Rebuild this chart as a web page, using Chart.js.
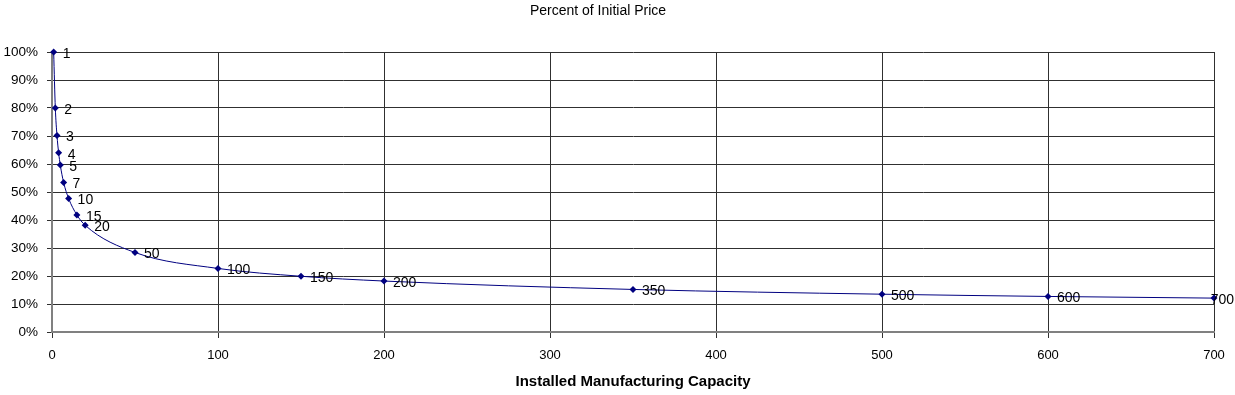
<!DOCTYPE html>
<html lang="en">
<head>
    <meta charset="UTF-8">
    <title>Percent of Initial Price</title>
    <script src="https://cdn.jsdelivr.net/npm/chart.js"></script>
    <style>
        html, body { margin: 0; padding: 0; background: #fff; }
        .chart-container { width: 1235px; height: 395px; position: relative; }
    </style>
</head>
<body>
    <div class="chart-container">
        <canvas id="priceChart"></canvas>
    </div>

    <script>
    // capacity values (x) and percent of initial price (y)
    const capacity = [1, 2, 3, 4, 5, 7, 10, 15, 20, 50, 100, 150, 200, 350, 500, 600, 700];
    const pricePct = [1.00, 0.80, 0.702, 0.64, 0.596, 0.534, 0.477, 0.418, 0.381, 0.284, 0.227, 0.199, 0.182, 0.152, 0.135, 0.127, 0.121];
    const xTicks = [0, 100, 200, 300, 400, 500, 600, 700];
    const yTicks = [0, 0.1, 0.2, 0.3, 0.4, 0.5, 0.6, 0.7, 0.8, 0.9, 1.0];
    const chartTitle = 'Percent of Initial Price';

    const FONT = 'Liberation Sans, Arial, sans-serif';

    // title sits a little left of centre, like the original
    const titleText = {
        id: 'titleText',
        afterDraw(chart) {
            const ctx = chart.ctx;
            ctx.save();
            ctx.font = '14px ' + FONT;
            ctx.fillStyle = '#000';
            ctx.textAlign = 'center';
            ctx.textBaseline = 'middle';
            ctx.fillText(chartTitle, 598, 11);
            ctx.restore();
        }
    };

    // write the capacity next to each point
    const pointLabels = {
        id: 'pointLabels',
        afterDatasetsDraw(chart) {
            const ctx = chart.ctx;
            const meta = chart.getDatasetMeta(0);
            ctx.save();
            ctx.font = '14px ' + FONT;
            ctx.fillStyle = '#000';
            ctx.textAlign = 'left';
            ctx.textBaseline = 'middle';
            meta.data.forEach(function(pt, i) {
                const txt = String(capacity[i]);
                const w = ctx.measureText(txt).width;
                const x = Math.min(pt.x + 9, chart.width - w - 1);
                ctx.fillText(txt, x, pt.y + 2);
            });
            ctx.restore();
        }
    };

    new Chart(document.getElementById('priceChart'), {
        type: 'line',
        data: {
            datasets: [{
                label: chartTitle,
                data: capacity.map((c, i) => ({ x: c, y: pricePct[i] })),
                borderColor: '#000080',
                backgroundColor: '#000080',
                borderWidth: 1,
                tension: 0.3,
                cubicInterpolationMode: 'monotone',
                pointStyle: 'rectRot',
                pointRadius: 3.5,
                pointBorderWidth: 0,
                pointBackgroundColor: '#000080',
                clip: false
            }]
        },
        plugins: [pointLabels, titleText],
        options: {
            responsive: true,
            maintainAspectRatio: false,
            animation: false,
            layout: { padding: { top: 52, right: 21, bottom: 0, left: 0 } },
            plugins: {
                legend: { display: false },
                tooltip: { enabled: false },
                title: { display: false }
            },
            scales: {
                x: {
                    type: 'linear',
                    min: 0,
                    max: 700,
                    afterBuildTicks(axis) { axis.ticks = xTicks.map(v => ({ value: v })); },
                    afterFit(axis) { axis.height = 63; },
                    grid: { color: '#303030', lineWidth: 1, tickLength: 6, drawTicks: true },
                    border: { color: '#808080', width: 2 },
                    ticks: {
                        color: '#000',
                        padding: 10,
                        maxRotation: 0,
                        font: { family: FONT, size: 13 }
                    },
                    title: {
                        display: true,
                        text: 'Installed Manufacturing Capacity',
                        color: '#000',
                        font: { family: FONT, size: 15, weight: 'bold' },
                        padding: { top: 0, bottom: 4 }
                    }
                },
                y: {
                    min: 0,
                    max: 1,
                    afterBuildTicks(axis) { axis.ticks = yTicks.map(v => ({ value: v })); },
                    afterFit(axis) { axis.width = 52; },
                    grid: { color: '#303030', lineWidth: 1, tickLength: 5 },
                    border: { color: '#808080', width: 2 },
                    ticks: {
                        color: '#000',
                        padding: 9,
                        font: { family: FONT, size: 13.5 },
                        callback: v => Math.round(v * 100) + '%'
                    }
                }
            }
        }
    });
    </script>
</body>
</html>
